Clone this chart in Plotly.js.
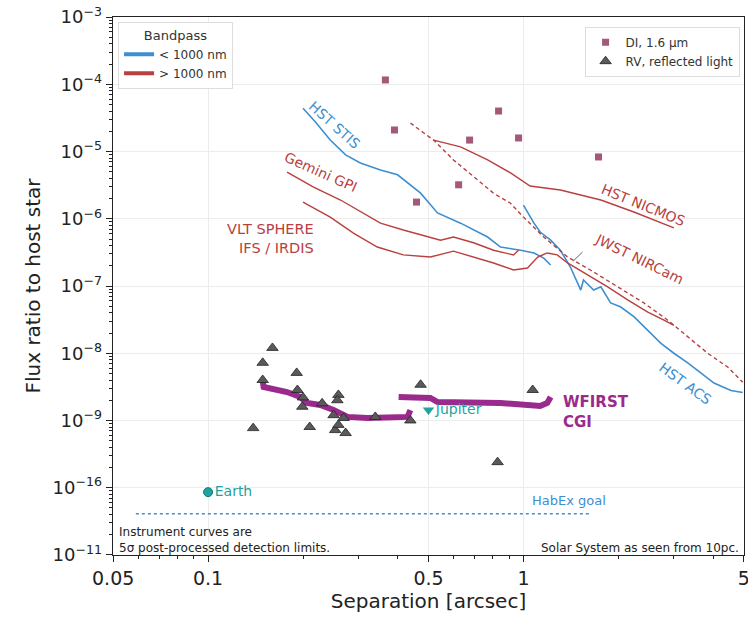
<!DOCTYPE html>
<html>
<head>
<meta charset="utf-8">
<script src="https://cdn.plot.ly/plotly-3.0.1.min.js"></script>
<style>html,body{margin:0;padding:0;background:#fff;}#chart{width:748px;height:625px;}</style>
</head>
<body>
<div id="chart"></div>
<script>
// ---- data (separation in arcsec, flux ratio) ----
const stisX = [0.200,0.219,0.244,0.273,0.304,0.352,0.399,0.438,0.472,0.534,0.632,0.770,0.846,0.980,1.08,1.16,1.22];
const stisY = [4.4e-5,2.75e-5,1.48e-5,8.9e-6,6.75e-6,5.3e-6,4.5e-6,3.2e-6,2.4e-6,1.22e-6,8.6e-7,5.35e-7,3.8e-7,3.4e-7,3.1e-7,2.6e-7,2.05e-7];

const acsX = [1.00,1.08,1.13,1.22,1.31,1.41,1.52,1.55,1.67,1.76,1.89,2.03,2.24,2.48,2.73,3.00,3.32,3.65,4.02,4.55,4.96];
const acsY = [1.6e-6,8.6e-7,6.35e-7,4.8e-7,3.4e-7,1.9e-7,8.7e-8,1.23e-7,8.7e-8,9.7e-8,5.6e-8,4.9e-8,3.5e-8,2.2e-8,1.4e-8,1.0e-8,7.2e-9,5.1e-9,3.6e-9,2.8e-9,2.6e-9];

const gpiX = [0.178,0.216,0.263,0.311,0.352,0.416,0.507,0.546,0.600,0.695,0.804,0.930,0.965];
const gpiY = [4.95e-6,2.96e-6,1.9e-6,1.22e-6,8.6e-7,6.8e-7,5.35e-7,4.8e-7,5.35e-7,4.4e-7,3.4e-7,2.9e-7,3.4e-7];

const sphereX = [0.200,0.244,0.289,0.344,0.416,0.507,0.600,0.695,0.804,0.930,1.03,1.11,1.19];
const sphereY = [1.77e-6,1.06e-6,6.1e-7,3.8e-7,2.9e-7,2.7e-7,3.3e-7,2.7e-7,2.2e-7,1.73e-7,1.85e-7,2.7e-7,3.1e-7];

const nircamX = [1.19,1.28,1.38,1.60,1.85,2.14,2.48,2.79,3.00];
const nircamY = [3.1e-7,2.9e-7,2.2e-7,1.46e-7,9.7e-8,6.2e-8,4.1e-8,3.1e-8,2.6e-8];

const nicmosX = [0.519,0.632,0.770,0.910,1.05,1.31,1.76,2.24,3.00];
const nicmosY = [1.48e-5,1.17e-5,7.5e-6,4.8e-6,3.07e-6,2.68e-6,1.9e-6,1.26e-6,7.3e-7];

const nircamDashX = [0.438,0.519,0.600,0.695,0.804,0.910,1.00,1.16,1.38,1.63,1.99,2.41,2.87,3.32,3.84,4.45,4.96];
const nircamDashY = [2.65e-5,1.48e-5,7.5e-6,4.2e-6,2.4e-6,1.7e-6,1.06e-6,5.35e-7,2.7e-7,1.73e-7,9.7e-8,5.6e-8,3.1e-8,1.74e-8,1.0e-8,6.2e-9,3.7e-9];

const cgi1X = [0.149,0.150,0.178,0.196,0.206,0.227,0.250,0.277,0.320,0.408,0.429,0.438];
const cgi1Y = [3.9e-9,3.15e-9,2.65e-9,2.24e-9,1.82e-9,1.7e-9,1.43e-9,1.13e-9,1.09e-9,1.09e-9,1.13e-9,1.43e-9];
const cgi2X = [0.402,0.507,0.534,0.665,0.846,1.13,1.19,1.22];
const cgi2Y = [2.24e-9,2.16e-9,1.88e-9,1.82e-9,1.82e-9,1.64e-9,1.82e-9,2.24e-9];

const habexX = [0.059,1.63];
const habexY = [4.1e-11,4.1e-11];

const diX = [0.365,0.390,0.834,0.675,0.965,1.73,0.623,0.458];
const diY = [1.16e-4,2.09e-5,4.0e-5,1.48e-5,1.59e-5,8.3e-6,3.2e-6,1.77e-6];

const rvX = [0.160,0.149,0.149,0.191,0.192,0.200,0.199,0.230,0.259,0.257,0.250,0.269,0.339,0.438,0.472,0.139,0.210,0.253,0.273,0.259,1.07,0.828];
const rvY = [1.2e-8,7.2e-9,4.0e-9,5.1e-9,2.84e-9,2.2e-9,1.6e-9,1.8e-9,2.4e-9,2.0e-9,1.2e-9,1.09e-9,1.13e-9,1.0e-9,3.4e-9,7.7e-10,8.0e-10,7.2e-10,6.5e-10,8.6e-10,2.84e-9,2.4e-10];

const jupiterX = [0.5], jupiterY = [1.43e-9];
const earthX = [0.1], earthY = [8.6e-11];

const xTickVals = [0.05,0.1,0.5,1,5];
const xTickText = ['0.05','0.1','0.5','1','5'];
const yTickVals = [1e-11,1e-10,1e-9,1e-8,1e-7,1e-6,1e-5,1e-4,1e-3];
const yTickText = ['10<sup>−11</sup>','10<sup>−16</sup>','10<sup>−9</sup>','10<sup>−8</sup>','10<sup>−7</sup>','10<sup>−6</sup>','10<sup>−5</sup>','10<sup>−4</sup>','10<sup>−3</sup>'];

// ---- styles ----
const BLUE = '#3d8fd1', RED = '#b9403f', PURPLE = '#9a2a8c', TEAL = '#1ea3a0', MAUVE = '#a4587a', GREY = '#5a5a5a';
const FONT = 'DejaVu Sans, Verdana, sans-serif';

function line(x, y, color, width, dash) {
  return {x: x, y: y, type: 'scatter', mode: 'lines', showlegend: false, hoverinfo: 'skip',
          line: {color: color, width: width, dash: dash || 'solid'}};
}

const traces = [
  line(stisX, stisY, BLUE, 1.6),
  line(acsX, acsY, BLUE, 1.6),
  line(gpiX, gpiY, RED, 1.4),
  line(sphereX, sphereY, RED, 1.4),
  line(nircamX, nircamY, RED, 1.4),
  line(nicmosX, nicmosY, RED, 1.4),
  line(nircamDashX, nircamDashY, RED, 1.4, '4px,3px'),
  line(cgi1X, cgi1Y, PURPLE, 6),
  line(cgi2X, cgi2Y, PURPLE, 6),
  line(habexX, habexY, BLUE, 1.4, '3px,3px'),
  {x: diX, y: diY, type: 'scatter', mode: 'markers', name: 'DI, 1.6 µm', legend: 'legend2',
   marker: {symbol: 'square', size: 7, color: MAUVE}},
  {x: rvX, y: rvY, type: 'scatter', mode: 'markers', name: 'RV, reflected light', legend: 'legend2',
   marker: {symbol: 'triangle-up', size: 10, color: GREY, line: {color: '#222', width: 0.8}}},
  {x: jupiterX, y: jupiterY, type: 'scatter', mode: 'markers+text', showlegend: false,
   text: ['Jupiter'], textposition: 'middle right', textfont: {color: TEAL, size: 14, family: FONT},
   marker: {symbol: 'triangle-down', size: 10, color: TEAL}},
  {x: earthX, y: earthY, type: 'scatter', mode: 'markers+text', showlegend: false,
   text: ['Earth'], textposition: 'middle right', textfont: {color: TEAL, size: 14, family: FONT},
   marker: {symbol: 'circle', size: 9, color: TEAL, line: {color: '#117a78', width: 1}}},
  {x: [null], y: [null], type: 'scatter', mode: 'lines', name: '< 1000 nm', legend: 'legend',
   line: {color: BLUE, width: 4}},
  {x: [null], y: [null], type: 'scatter', mode: 'lines', name: '> 1000 nm', legend: 'legend',
   line: {color: RED, width: 4}}
];

const minorX = [0.06,0.07,0.08,0.09,0.2,0.3,0.4,0.6,0.7,0.8,0.9,2,3,4];
const minorY = [];
for (let e = -11; e < -3; e++) for (let m = 2; m <= 9; m++) minorY.push(m * Math.pow(10, e));

function ann(text, x, y, opts) {
  return Object.assign({text: text, x: x, y: y, xref: 'paper', yref: 'paper', showarrow: false,
    xanchor: 'center', yanchor: 'middle', font: {family: FONT, size: 12}}, opts || {});
}

const layout = {
  width: 748, height: 625,
  margin: {l: 113, r: 4, t: 17, b: 70},
  paper_bgcolor: '#fff', plot_bgcolor: '#fff',
  font: {family: FONT, color: '#222'},
  xaxis: {
    type: 'log', range: [Math.log10(0.05) - 0.0005, Math.log10(5) + 0.0005],
    tickmode: 'array', tickvals: xTickVals, ticktext: xTickText, ticklabeloverflow: 'allow',
    tickfont: {size: 19, color: '#222'}, ticks: 'outside', ticklen: 6, tickcolor: '#222',
    showgrid: true, gridcolor: '#ececec', gridwidth: 1,
    showline: true, linecolor: '#222', linewidth: 1.3, mirror: true, zeroline: false,
    minor: {tickmode: 'array', tickvals: minorX, ticks: 'outside', ticklen: 3, tickcolor: '#222', showgrid: false},
    title: {text: 'Separation [arcsec]', font: {size: 20, color: '#222'}, standoff: 6}
  },
  yaxis: {
    type: 'log', range: [-11.0005, -2.9995],
    tickmode: 'array', tickvals: yTickVals, ticktext: yTickText, ticklabeloverflow: 'allow',
    tickfont: {size: 18, color: '#222'}, ticks: 'outside', ticklen: 6, tickcolor: '#222',
    showgrid: true, gridcolor: '#ececec', gridwidth: 1,
    showline: true, linecolor: '#222', linewidth: 1.3, mirror: true, zeroline: false,
    minor: {tickmode: 'array', tickvals: minorY, ticks: 'outside', ticklen: 3, tickcolor: '#222', showgrid: false},
    title: {text: 'Flux ratio to host star', font: {size: 20, color: '#222'}, standoff: 6}
  },
  legend: {
    x: 0.008, y: 0.991, xanchor: 'left', yanchor: 'top',
    bgcolor: 'rgba(255,255,255,0.9)', bordercolor: '#dddddd', borderwidth: 1,
    font: {size: 12, family: FONT, color: '#333'}, itemwidth: 30, tracegroupgap: 0,
    title: {text: 'Bandpass', side: 'top center', font: {size: 13, family: FONT, color: '#333'}}
  },
  legend2: {
    x: 0.993, y: 0.982, xanchor: 'right', yanchor: 'top',
    bgcolor: 'rgba(255,255,255,0.9)', bordercolor: '#dddddd', borderwidth: 1,
    font: {size: 12, family: FONT, color: '#333'}, itemwidth: 30, tracegroupgap: 0
  },
  showlegend: true,
  shapes: [
    {type: 'line', xref: 'paper', yref: 'paper', x0: 0.744, y0: 0.563, x1: 0.729, y1: 0.546,
     line: {color: '#4a6a8a', width: 1}}
  ],
  annotations: [
    ann('HST STIS', 0.351, 0.799, {textangle: 42, font: {family: FONT, size: 14, color: BLUE}}),
    ann('Gemini GPI', 0.329, 0.712, {textangle: 24, font: {family: FONT, size: 14, color: RED}}),
    ann('VLT SPHERE<br>IFS / IRDIS', 0.322, 0.589, {xanchor: 'right', align: 'right', font: {family: FONT, size: 14.5, color: RED}}),
    ann('HST NICMOS', 0.840, 0.651, {textangle: 22, font: {family: FONT, size: 14, color: RED}}),
    ann('JWST NIRCam', 0.834, 0.550, {textangle: 26, font: {family: FONT, size: 14, color: RED}}),
    ann('HST ACS', 0.908, 0.318, {textangle: 36, font: {family: FONT, size: 14, color: BLUE}}),
    ann('<b>WFIRST<br>CGI</b>', 0.710, 0.266, {xanchor: 'left', align: 'left', font: {family: FONT, size: 15, color: PURPLE}}),
    ann('HabEx goal', 0.722, 0.102, {font: {family: FONT, size: 13, color: BLUE}}),
    ann('Instrument curves are', 0.006, 0.043, {xanchor: 'left', font: {family: FONT, size: 12, color: '#222'}}),
    ann('5σ post-processed detection limits.', 0.006, 0.013, {xanchor: 'left', font: {family: FONT, size: 12, color: '#222'}}),
    ann('Solar System as seen from 10pc.', 0.995, 0.013, {xanchor: 'right', font: {family: FONT, size: 12, color: '#222'}})
  ]
};

Plotly.newPlot('chart', traces, layout, {displayModeBar: false, staticPlot: true});
</script>
</body>
</html>
